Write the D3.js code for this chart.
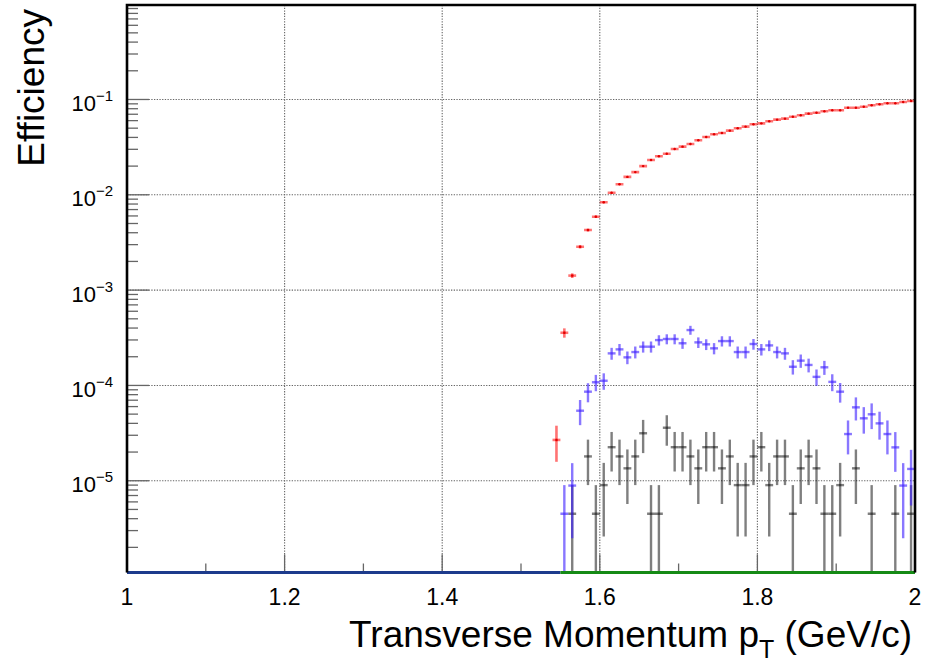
<!DOCTYPE html>
<meta charset="utf-8">
<head>
    <title>Efficiency vs Transverse Momentum</title>
    <script src="https://cdn.jsdelivr.net/npm/d3@7"></script>
    <style>
        body { margin: 0; background: #fff; }
        text { font-family: "Liberation Sans", Arial, Helvetica, sans-serif; fill: #000; }
    </style>
</head>
<body>
<script>
// bins are 0.01 GeV/c wide, values below are read at the bin centres
var binWidth = 0.01;
var binCenters = [1.545, 1.555, 1.565, 1.575, 1.585, 1.595, 1.605, 1.615, 1.625, 1.635,
    1.645, 1.655, 1.665, 1.675, 1.685, 1.695, 1.705, 1.715, 1.725, 1.735,
    1.745, 1.755, 1.765, 1.775, 1.785, 1.795, 1.805, 1.815, 1.825, 1.835,
    1.845, 1.855, 1.865, 1.875, 1.885, 1.895, 1.905, 1.915, 1.925, 1.935,
    1.945, 1.955, 1.965, 1.975, 1.985, 1.995];

// red series, starts at 1.545
var redEff = [2.68e-5, 3.57e-4, 1.42e-3, 2.85e-3, 4.27e-3, 5.89e-3, 8.34e-3, 1.05e-2, 1.29e-2, 1.54e-2,
    1.73e-2, 2.00e-2, 2.32e-2, 2.54e-2, 2.70e-2, 3.02e-2, 3.20e-2, 3.41e-2, 3.73e-2, 4.04e-2,
    4.31e-2, 4.45e-2, 4.71e-2, 4.99e-2, 5.19e-2, 5.49e-2, 5.62e-2, 5.90e-2, 6.14e-2, 6.29e-2,
    6.60e-2, 6.82e-2, 7.10e-2, 7.27e-2, 7.52e-2, 7.70e-2, 7.70e-2, 8.20e-2, 8.20e-2, 8.40e-2,
    8.69e-2, 8.91e-2, 9.12e-2, 9.12e-2, 9.42e-2, 9.64e-2];
var redErr = [1.1e-5, 4.0e-5, 8.0e-5, 1.1e-4, 1.4e-4, 1.6e-4, 1.9e-4, 2.2e-4, 2.4e-4, 2.6e-4,
    2.8e-4, 3.0e-4, 3.2e-4, 3.4e-4, 3.5e-4, 3.7e-4, 3.8e-4, 3.9e-4, 4.1e-4, 4.3e-4,
    4.4e-4, 4.5e-4, 4.6e-4, 4.7e-4, 4.8e-4, 5.0e-4, 5.0e-4, 5.2e-4, 5.3e-4, 5.3e-4,
    5.5e-4, 5.5e-4, 5.7e-4, 5.7e-4, 5.8e-4, 5.9e-4, 5.9e-4, 6.1e-4, 6.1e-4, 6.2e-4,
    6.3e-4, 6.3e-4, 6.4e-4, 6.4e-4, 6.5e-4, 6.6e-4];

// blue series, starts at 1.555
var blueEff = [4.5e-6, 8.9e-6, 5.43e-5, 8.6e-5, 1.08e-4, 1.12e-4, 2.17e-4, 2.39e-4, 1.97e-4, 2.24e-4,
    2.55e-4, 2.55e-4, 2.99e-4, 3.07e-4, 3.07e-4, 2.77e-4, 3.81e-4, 2.83e-4, 2.70e-4, 2.45e-4,
    2.92e-4, 2.92e-4, 2.24e-4, 2.24e-4, 2.72e-4, 2.39e-4, 2.63e-4, 2.24e-4, 2.17e-4, 1.57e-4,
    1.82e-4, 1.64e-4, 1.23e-4, 1.55e-4, 1.09e-4, 8.6e-5, 3.09e-5, 5.89e-5, 4.52e-5, 4.98e-5,
    4.00e-5, 3.09e-5, 2.24e-5, 8.9e-6, 1.33e-5];
var blueErr = [4.5e-6, 6.4e-6, 1.6e-5, 1.95e-5, 2.1e-5, 2.2e-5, 3.1e-5, 3.3e-5, 3.0e-5, 3.2e-5,
    3.4e-5, 3.4e-5, 3.7e-5, 3.7e-5, 3.7e-5, 3.5e-5, 4.1e-5, 3.6e-5, 3.5e-5, 3.3e-5,
    3.6e-5, 3.6e-5, 3.2e-5, 3.2e-5, 3.5e-5, 3.3e-5, 3.4e-5, 3.2e-5, 3.1e-5, 2.7e-5,
    2.9e-5, 2.7e-5, 2.4e-5, 2.6e-5, 2.2e-5, 2.0e-5, 1.2e-5, 1.6e-5, 1.4e-5, 1.5e-5,
    1.3e-5, 1.2e-5, 1.0e-5, 6.4e-6, 7.8e-6];

// black series, starts at 1.565 (0 = empty bin, not drawn)
var blackEff = [4.5e-6, 0, 1.8e-5, 4.5e-6, 9.0e-6, 2.25e-5, 1.8e-5, 1.35e-5, 1.8e-5, 3.15e-5,
    4.5e-6, 4.5e-6, 3.6e-5, 2.25e-5, 2.25e-5, 1.8e-5, 1.35e-5, 2.25e-5, 2.25e-5, 1.35e-5,
    1.8e-5, 9.0e-6, 9.0e-6, 1.8e-5, 2.25e-5, 9.0e-6, 1.8e-5, 1.8e-5, 4.5e-6, 1.35e-5,
    1.8e-5, 1.35e-5, 4.5e-6, 4.5e-6, 9.0e-6, 0, 1.35e-5, 0, 4.5e-6, 0,
    0, 4.5e-6, 0, 4.5e-6];
var blackErr = [4.5e-6, 0, 9.0e-6, 4.5e-6, 6.4e-6, 1.0e-5, 9.0e-6, 7.8e-6, 9.0e-6, 1.2e-5,
    4.5e-6, 4.5e-6, 1.27e-5, 1.0e-5, 1.0e-5, 9.0e-6, 7.8e-6, 1.0e-5, 1.0e-5, 7.8e-6,
    9.0e-6, 6.4e-6, 6.4e-6, 9.0e-6, 1.0e-5, 6.4e-6, 9.0e-6, 9.0e-6, 4.5e-6, 7.8e-6,
    9.0e-6, 7.8e-6, 4.5e-6, 4.5e-6, 6.4e-6, 0, 7.8e-6, 0, 4.5e-6, 0,
    0, 4.5e-6, 0, 4.5e-6];

// empty (zero) bins drawn along the bottom of the frame
var zeroBlueRange = [1.0, 1.55];
var zeroGreenRange = [1.55, 2.0];

var xLabels = ["1", "1.2", "1.4", "1.6", "1.8", "2"];
var xMajor = [1.0, 1.2, 1.4, 1.6, 1.8, 2.0];
var xMinor = [1.1, 1.3, 1.5, 1.7, 1.9];
var yDecades = [-5, -4, -3, -2, -1];
var yRange = [1.09e-6, 0.98];
var xRange = [1, 2];

// ---- layout
var W = 936, H = 665;
var margin = { left: 127, right: 21, top: 5, bottom: 92.5 };

var svg = d3.select("body").append("svg")
    .attr("width", W).attr("height", H);
svg.append("rect").attr("width", W).attr("height", H).attr("fill", "#fff");

var x = d3.scaleLinear().domain(xRange).range([margin.left, W - margin.right]);
var y = d3.scaleLog().domain(yRange).range([H - margin.bottom, margin.top]);

var x0 = x.range()[0], x1 = x.range()[1], yb = y.range()[0], yt = y.range()[1];

svg.append("clipPath").attr("id", "frameclip")
    .append("rect").attr("x", x0).attr("y", yt).attr("width", x1 - x0).attr("height", yb - yt);

// grid
var grid = svg.append("g").attr("stroke", "#666").attr("stroke-width", 1.1).attr("stroke-dasharray", "1.3,1.4");
xMajor.slice(1, -1).forEach(function(v) {
    grid.append("line").attr("x1", x(v)).attr("x2", x(v)).attr("y1", yt).attr("y2", yb);
});
yDecades.forEach(function(p) {
    grid.append("line").attr("x1", x0).attr("x2", x1).attr("y1", y(Math.pow(10, p))).attr("y2", y(Math.pow(10, p)));
});

// ticks
var ticks = svg.append("g").attr("stroke", "#666").attr("stroke-width", 1.3);
xMajor.forEach(function(v) {
    ticks.append("line").attr("x1", x(v)).attr("x2", x(v)).attr("y1", yb).attr("y2", yb - 18);
});
xMinor.forEach(function(v) {
    ticks.append("line").attr("x1", x(v)).attr("x2", x(v)).attr("y1", yb).attr("y2", yb - 9);
});
for (var p = -6; p <= 0; p++) {
    for (var m = 1; m <= 9; m++) {
        var v = m * Math.pow(10, p);
        if (v < yRange[0] || v > yRange[1]) continue;
        ticks.append("line").attr("x1", x0).attr("x2", x0 + (m == 1 ? 22 : 11))
            .attr("y1", y(v)).attr("y2", y(v));
    }
}

// error bar series
var plot = svg.append("g").attr("clip-path", "url(#frameclip)");

function drawSeries(xs, vals, errs, color, opacity, width) {
    var g = plot.append("g").attr("stroke", color).attr("stroke-opacity", opacity).attr("stroke-width", width);
    vals.forEach(function(v, i) {
        if (v <= 0) return;
        var c = xs[i];
        var lo = v - errs[i];
        g.append("line")
            .attr("x1", x(c - binWidth / 2)).attr("x2", x(c + binWidth / 2))
            .attr("y1", y(v)).attr("y2", y(v));
        g.append("line")
            .attr("x1", x(c)).attr("x2", x(c))
            .attr("y1", y(v + errs[i])).attr("y2", lo > yRange[0] ? y(lo) : yb);
    });
    return g;
}

drawSeries(binCenters.slice(2), blackEff, blackErr, "#000", 0.5, 2.4);
drawSeries(binCenters.slice(1), blueEff, blueErr, "#3a1cff", 0.6, 2.4);
drawSeries(binCenters, redEff, redErr, "#ff0000", 0.55, 2.6);
redEff.forEach(function(v, i) {
    plot.append("circle").attr("cx", x(binCenters[i])).attr("cy", y(v)).attr("r", 1.2).attr("fill", "#e00000");
});

// zero bins at the bottom
svg.append("line").attr("x1", x(zeroBlueRange[0])).attr("x2", x(zeroBlueRange[1]))
    .attr("y1", yb).attr("y2", yb).attr("stroke", "#1d3b8c").attr("stroke-width", 3);
svg.append("line").attr("x1", x(zeroGreenRange[0])).attr("x2", x(zeroGreenRange[1]))
    .attr("y1", yb).attr("y2", yb).attr("stroke", "#158a15").attr("stroke-width", 3);

// frame
svg.append("path")
    .attr("d", "M" + x0 + "," + yb + "V" + yt + "H" + x1 + "V" + yb)
    .attr("fill", "none").attr("stroke", "#000").attr("stroke-width", 2.6);

// x tick labels
svg.append("g").selectAll("text").data(xMajor).enter().append("text")
    .attr("x", function(d) { return x(d); })
    .attr("y", 605)
    .attr("text-anchor", "middle")
    .style("font-size", "23px")
    .text(function(d, i) { return xLabels[i]; });

// y tick labels: 10^p
yDecades.forEach(function(p) {
    var t = svg.append("text")
        .attr("x", 113).attr("y", y(Math.pow(10, p)) + 11.5)
        .attr("text-anchor", "end")
        .style("font-size", "22px");
    t.append("tspan").text("10");
    t.append("tspan").attr("dy", -10).style("font-size", "15px").text("\u2212" + (-p));
});

// axis titles
svg.append("text")
    .attr("transform", "translate(44,9) rotate(-90)")
    .attr("text-anchor", "end")
    .style("font-size", "37px")
    .text("Efficiency");

var xt = svg.append("text")
    .attr("x", 912).attr("y", 647)
    .attr("text-anchor", "end")
    .style("font-size", "37px");
xt.append("tspan").text("Transverse Momentum p");
xt.append("tspan").attr("dy", 11).style("font-size", "25px").text("T");
xt.append("tspan").attr("dy", -11).text(" (GeV/c)");
</script>
</body>
</html>
